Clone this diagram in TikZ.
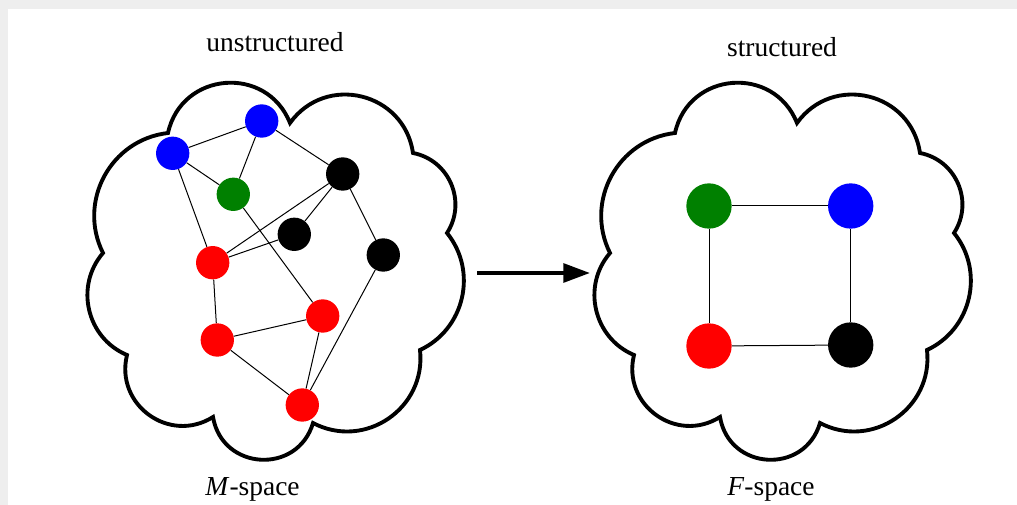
\documentclass[tikz,border=0pt]{standalone}
\usepackage{fontspec}
\setmainfont{Liberation Serif}
\usetikzlibrary{arrows.meta}
\definecolor{dotgreen}{HTML}{008000}
\definecolor{shotgray}{HTML}{EEEEEE}

\begin{document}
\begin{tikzpicture}[
  x=0.75pt, y=-0.75pt,
  dot/.style={circle, inner sep=0pt, minimum size=25pt},
  bigdot/.style={circle, inner sep=0pt, minimum size=34pt},
  edge/.style={line width=0.75pt},
  cloud/.style={line width=2.9pt, line join=miter},
  bump/.style 2 args={bend left=#1, looseness=#2},
  lbl/.style={font=\fontsize{20.6}{24}\selectfont, inner sep=0pt, anchor=base},
  arr/.style={line width=3pt, -{Triangle[length=20pt, width=14pt]}},
]

% frame of the screenshot
\useasboundingbox (0,0) rectangle (1017,505);
\fill[shotgray] (0,0) rectangle (1017,9);
\fill[shotgray] (0,0) rectangle (8,505);

% the two clouds
\foreach \sx in {0,507} {
  \draw[cloud, shift={(\sx,0)}]
    (168,133) to[bump={73}{1.32}] (290,123)
              to[bump={68}{1.24}] (413,153)
              to[bump={56}{1.09}] (447,233)
              to[bump={52}{1.05}] (420,350)
              to[bump={62}{1.16}] (313,423)
              to[bump={77}{1.39}] (213,417)
              to[bump={68}{1.24}] (127,355)
              to[bump={54}{1.07}] (103,253)
              to[bump={55}{1.08}] cycle;
}

% M-space
\node[dot, fill=blue] (mblueA) at (172.7,153.3) {};
\node[dot, fill=blue] (mblueB) at (261.7,121) {};
\node[dot, fill=dotgreen] (mgreen) at (233.3,194.3) {};
\node[dot, fill=black] (mblackA) at (342.7,174) {};
\node[dot, fill=black] (mblackB) at (294.3,234.3) {};
\node[dot, fill=black] (mblackC) at (383.3,255) {};
\node[dot, fill=red] (mredA) at (212.7,262.7) {};
\node[dot, fill=red] (mredB) at (322.7,316) {};
\node[dot, fill=red] (mredC) at (217.3,340) {};
\node[dot, fill=red] (mredD) at (302.3,405) {};

\draw[edge] (mblueA) -- (mblueB);
\draw[edge] (mblueA) -- (mgreen);
\draw[edge] (mblueB) -- (mgreen);
\draw[edge] (mblueA) -- (mredA);
\draw[edge] (mblueB) -- (mblackA);
\draw[edge] (mblackA) -- (mredA);
\draw[edge] (mblackA) -- (mblackB);
\draw[edge] (mblackA) -- (mblackC);
\draw[edge] (mblackB) -- (mredA);
\draw[edge] (mgreen) -- (mredB);
\draw[edge] (mredA) -- (mredC);
\draw[edge] (mredC) -- (mredB);
\draw[edge] (mredC) -- (mredD);
\draw[edge] (mredB) -- (mredD);
\draw[edge] (mblackC) -- (mredD);

% F-space
\node[bigdot, fill=dotgreen] (fgreen) at (709,206) {};
\node[bigdot, fill=blue] (fblue) at (850.7,206) {};
\node[bigdot, fill=red] (fred) at (709,346) {};
\node[bigdot, fill=black] (fblack) at (850.7,345) {};

\draw[edge] (fgreen) -- (fblue);
\draw[edge] (fgreen) -- (fred);
\draw[edge] (fblue) -- (fblack);
\draw[edge] (fred) -- (fblack);

% mapping arrow
\coordinate (arrS) at (477,273);
\coordinate (arrE) at (590,273);
\draw[arr] (arrS) -- (arrE);

% labels
\node[lbl] (topM) at (275,52) {unstructured};
\node[lbl] (topF) at (782,56.5) {structured};
\node[lbl] (botM) at (252.5,496) {\textit{M}-space};
\node[lbl] (botF) at (771,496) {\textit{F}-space};

\end{tikzpicture}
\end{document}
